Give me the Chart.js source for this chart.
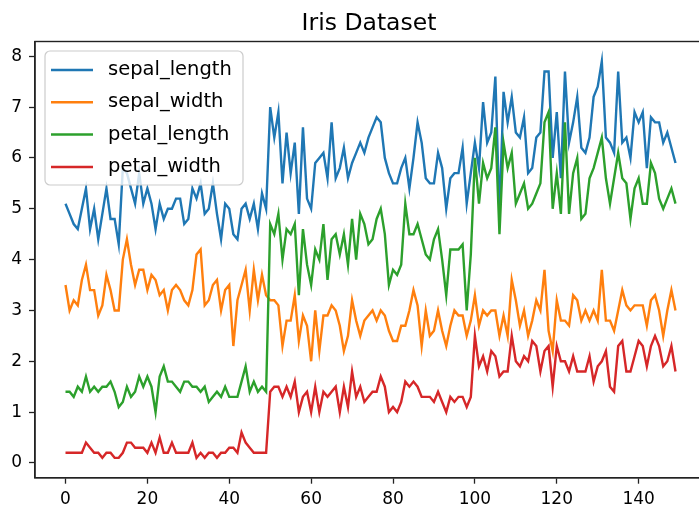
<!DOCTYPE html>
<html>
<head>
<meta charset="utf-8">
<title>Iris Dataset</title>
<script src="https://cdn.jsdelivr.net/npm/chart.js@4"></script>
<style>
  html, body { margin: 0; padding: 0; background: #fff; overflow: hidden; }
  #wrap { width: 699px; height: 515px; overflow: hidden; position: relative; }
  #chart { position: absolute; left: 0; top: 0; width: 741px; height: 515px; }
</style>
</head>
<body>
<div id="wrap"><canvas id="chart" width="741" height="515"></canvas></div>
<script>
// Iris measurements, one entry per sample (rows 0..149)
const sepalLength = [
  5.1,4.9,4.7,4.6,5.0,5.4,4.6,5.0,4.4,4.9,5.4,4.8,4.8,4.3,5.8,5.7,5.4,5.1,5.7,5.1,
  5.4,5.1,4.6,5.1,4.8,5.0,5.0,5.2,5.2,4.7,4.8,5.4,5.2,5.5,4.9,5.0,5.5,4.9,4.4,5.1,
  5.0,4.5,4.4,5.0,5.1,4.8,5.1,4.6,5.3,5.0,
  7.0,6.4,6.9,5.5,6.5,5.7,6.3,4.9,6.6,5.2,5.0,5.9,6.0,6.1,5.6,6.7,5.6,5.8,6.2,5.6,
  5.9,6.1,6.3,6.1,6.4,6.6,6.8,6.7,6.0,5.7,5.5,5.5,5.8,6.0,5.4,6.0,6.7,6.3,5.6,5.5,
  5.5,6.1,5.8,5.0,5.6,5.7,5.7,6.2,5.1,5.7,
  6.3,5.8,7.1,6.3,6.5,7.6,4.9,7.3,6.7,7.2,6.5,6.4,6.8,5.7,5.8,6.4,6.5,7.7,7.7,6.0,
  6.9,5.6,7.7,6.3,6.7,7.2,6.2,6.1,6.4,7.2,7.4,7.9,6.4,6.3,6.1,7.7,6.3,6.4,6.0,6.9,
  6.7,6.9,5.8,6.8,6.7,6.7,6.3,6.5,6.2,5.9
];
const sepalWidth = [
  3.5,3.0,3.2,3.1,3.6,3.9,3.4,3.4,2.9,3.1,3.7,3.4,3.0,3.0,4.0,4.4,3.9,3.5,3.8,3.8,
  3.4,3.7,3.6,3.3,3.4,3.0,3.4,3.5,3.4,3.2,3.1,3.4,4.1,4.2,3.1,3.2,3.5,3.6,3.0,3.4,
  3.5,2.3,3.2,3.5,3.8,3.0,3.8,3.2,3.7,3.3,
  3.2,3.2,3.1,2.3,2.8,2.8,3.3,2.4,2.9,2.7,2.0,3.0,2.2,2.9,2.9,3.1,3.0,2.7,2.2,2.5,
  3.2,2.8,2.5,2.8,2.9,3.0,2.8,3.0,2.9,2.6,2.4,2.4,2.7,2.7,3.0,3.4,3.1,2.3,3.0,2.5,
  2.6,3.0,2.6,2.3,2.7,3.0,2.9,2.9,2.5,2.8,
  3.3,2.7,3.0,2.9,3.0,3.0,2.5,2.9,2.5,3.6,3.2,2.7,3.0,2.5,2.8,3.2,3.0,3.8,2.6,2.2,
  3.2,2.8,2.8,2.7,3.3,3.2,2.8,3.0,2.8,3.0,2.8,3.8,2.8,2.8,2.6,3.0,3.4,3.1,3.0,3.1,
  3.1,3.1,2.7,3.2,3.3,3.0,2.5,3.0,3.4,3.0
];
const petalLength = [
  1.4,1.4,1.3,1.5,1.4,1.7,1.4,1.5,1.4,1.5,1.5,1.6,1.4,1.1,1.2,1.5,1.3,1.4,1.7,1.5,
  1.7,1.5,1.0,1.7,1.9,1.6,1.6,1.5,1.4,1.6,1.6,1.5,1.5,1.4,1.5,1.2,1.3,1.4,1.3,1.5,
  1.3,1.3,1.3,1.6,1.9,1.4,1.6,1.4,1.5,1.4,
  4.7,4.5,4.9,4.0,4.6,4.5,4.7,3.3,4.6,3.9,3.5,4.2,4.0,4.7,3.6,4.4,4.5,4.1,4.5,3.9,
  4.8,4.0,4.9,4.7,4.3,4.4,4.8,5.0,4.5,3.5,3.8,3.7,3.9,5.1,4.5,4.5,4.7,4.4,4.1,4.0,
  4.4,4.6,4.0,3.3,4.2,4.2,4.2,4.3,3.0,4.1,
  6.0,5.1,5.9,5.6,5.8,6.6,4.5,6.3,5.8,6.1,5.1,5.3,5.5,5.0,5.1,5.3,5.5,6.7,6.9,5.0,
  5.7,4.9,6.7,4.9,5.7,6.0,4.8,4.9,5.6,5.8,6.1,6.4,5.6,5.1,5.6,6.1,5.6,5.5,4.8,5.4,
  5.6,5.1,5.1,5.9,5.7,5.2,5.0,5.2,5.4,5.1
];
const petalWidth = [
  0.2,0.2,0.2,0.2,0.2,0.4,0.3,0.2,0.2,0.1,0.2,0.2,0.1,0.1,0.2,0.4,0.4,0.3,0.3,0.3,
  0.2,0.4,0.2,0.5,0.2,0.2,0.4,0.2,0.2,0.2,0.2,0.4,0.1,0.2,0.1,0.2,0.2,0.1,0.2,0.2,
  0.3,0.3,0.2,0.6,0.4,0.3,0.2,0.2,0.2,0.2,
  1.4,1.5,1.5,1.3,1.5,1.3,1.6,1.0,1.3,1.4,1.0,1.5,1.0,1.4,1.3,1.4,1.5,1.0,1.5,1.1,
  1.8,1.3,1.5,1.2,1.3,1.4,1.4,1.7,1.5,1.0,1.1,1.0,1.2,1.6,1.5,1.6,1.5,1.3,1.3,1.3,
  1.2,1.4,1.2,1.0,1.3,1.2,1.3,1.3,1.1,1.3,
  2.5,1.9,2.1,1.8,2.2,2.1,1.7,1.8,1.8,2.5,2.0,1.9,2.1,2.0,2.4,2.3,1.8,2.2,2.3,1.5,
  2.3,2.0,2.0,1.8,2.1,1.8,1.8,1.8,2.1,1.6,1.9,2.0,2.2,1.5,1.4,2.3,2.4,1.8,1.8,2.1,
  2.4,2.3,1.9,2.3,2.5,2.3,1.9,2.0,2.3,1.8
];

const seriesNames = ['sepal_length', 'sepal_width', 'petal_length', 'petal_width'];
const seriesColors = ['#1f77b4', '#ff7f0e', '#2ca02c', '#d62728'];
const xTicks = [0, 20, 40, 60, 80, 100, 120, 140];
const yTicks = [0, 1, 2, 3, 4, 5, 6, 7, 8];
const chartTitle = 'Iris Dataset';

const FONT = "'DejaVu Sans', sans-serif";

const series = [sepalLength, sepalWidth, petalLength, petalWidth];
const datasets = series.map((vals, i) => ({
  label: seriesNames[i],
  data: vals.map((v, k) => ({ x: k, y: v })),
  borderColor: seriesColors[i],
  backgroundColor: seriesColors[i],
  borderWidth: 2.4,
  pointRadius: 0,
  tension: 0,
  fill: false,
  order: series.length - 1 - i   // later series sit on top
}));

// title over the axes, full frame, and a boxed legend in the upper left
const frameAndLegend = {
  id: 'frameAndLegend',
  afterDraw(chart) {
    const ctx = chart.ctx;
    const a = chart.chartArea;
    ctx.save();

    ctx.fillStyle = '#000';
    ctx.font = '23.5px ' + FONT;
    ctx.textAlign = 'center';
    ctx.textBaseline = 'alphabetic';
    ctx.fillText(chartTitle, (a.left + a.right) / 2 - 1.5, 30);

    ctx.strokeStyle = '#222';
    ctx.lineWidth = 1.4;
    ctx.strokeRect(a.left, a.top, a.right - a.left, a.bottom - a.top);

    // legend box
    const bx = 45, by = 51, bw = 198, bh = 134, r = 5;
    ctx.beginPath();
    ctx.moveTo(bx + r, by);
    ctx.arcTo(bx + bw, by, bx + bw, by + bh, r);
    ctx.arcTo(bx + bw, by + bh, bx, by + bh, r);
    ctx.arcTo(bx, by + bh, bx, by, r);
    ctx.arcTo(bx, by, bx + bw, by, r);
    ctx.closePath();
    ctx.fillStyle = 'rgba(255,255,255,0.8)';
    ctx.fill();
    ctx.strokeStyle = '#cccccc';
    ctx.lineWidth = 1.2;
    ctx.stroke();

    ctx.font = '19.5px ' + FONT;
    ctx.textBaseline = 'middle';
    ctx.textAlign = 'left';
    chart.data.datasets.forEach((ds, i) => {
      const y = 70 + i * 32.3;
      ctx.strokeStyle = ds.borderColor;
      ctx.lineWidth = 2.5;
      ctx.beginPath();
      ctx.moveTo(51, y);
      ctx.lineTo(93, y);
      ctx.stroke();
      ctx.fillStyle = '#000';
      ctx.fillText(ds.label, 108, y);
    });
    ctx.restore();
  }
};

new Chart(document.getElementById('chart'), {
  type: 'line',
  data: { datasets },
  options: {
    responsive: false,
    maintainAspectRatio: false,
    devicePixelRatio: 1,
    animation: false,
    layout: { padding: { left: 0, right: 35, top: 41.5, bottom: 0 } },
    plugins: {
      legend: { display: false },
      tooltip: { enabled: false },
      title: { display: false }
    },
    scales: {
      x: {
        type: 'linear',
        min: -7.45,
        max: 156.45,
        afterBuildTicks: (s) => { s.ticks = xTicks.map(v => ({ value: v })); },
        afterFit: (s) => { s.height = 37.3; },
        grid: { drawOnChartArea: false, tickLength: 6, tickWidth: 1.3, tickColor: '#222' },
        border: { display: true, color: '#222', width: 1.4 },
        ticks: { color: '#000', padding: 6, maxRotation: 0, font: { family: FONT, size: 17 } }
      },
      y: {
        type: 'linear',
        min: -0.29,
        max: 8.29,
        afterBuildTicks: (s) => { s.ticks = yTicks.map(v => ({ value: v })); },
        afterFit: (s) => { s.width = 35; },
        grid: { drawOnChartArea: false, tickLength: 6, tickWidth: 1.3, tickColor: '#222' },
        border: { display: true, color: '#222', width: 1.4 },
        ticks: { color: '#000', padding: 7, font: { family: FONT, size: 17 } }
      }
    }
  },
  plugins: [frameAndLegend]
});
</script>
</body>
</html>
